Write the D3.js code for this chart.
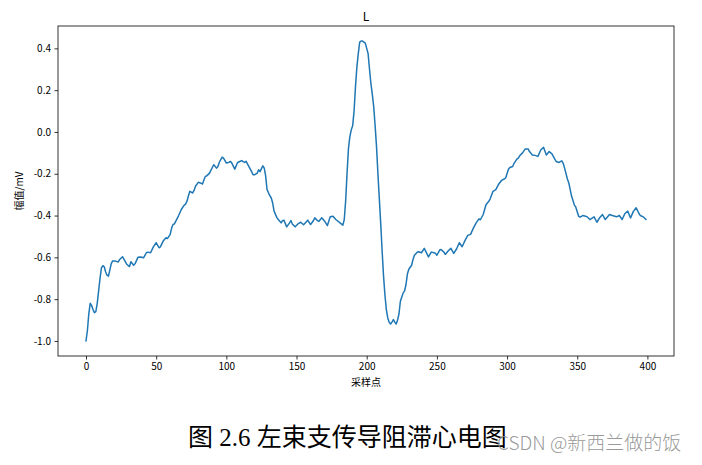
<!DOCTYPE html>
<html><head><meta charset="utf-8">
<script src="https://cdn.jsdelivr.net/npm/d3@7"></script>
<style>body{margin:0;background:#fff}svg{display:block}</style>
</head><body>
<script>
const chartTitle = "L";
const xLabel = "采样点";
const yLabel = "幅值/mV";
const caption = "图 2.6 左束支传导阻滞心电图";
const watermark = "CSDN @新西兰做的饭";
const xTicks = [0, 50, 100, 150, 200, 250, 300, 350, 400];
const yTicks = [-1.0, -0.8, -0.6, -0.4, -0.2, 0.0, 0.2, 0.4];
const sampleIdx = [0,1,2,3,4,5,6,7,8,9,10,11,12,13,14,15,16,17,18,19,21,23,24,26,28,29,31,32,34,35,37,39,41,43,44,46,48,50,52,53,55,57,58,60,61,62,63,64,66,68,70,71,72,73,74,76,77,78,80,82,83,84,85,86,88,90,91,93,94,95,97,98,100,102,103,104,106,108,110,111,112,113,114,116,118,119,120,122,123,124,126,127,128,129,131,132,133,134,136,137,139,140,141,143,145,146,147,149,151,153,155,158,160,162,163,165,166,168,170,172,174,176,178,181,183,184,185,186,187,188,189,190,191,192,193,194,195,196,197,198,199,200,201,202,203,204,205,206,207,208,209,210,211,212,213,214,215,216,217,218,219,220,221,222,223,224,225,226,227,228,229,230,232,233,234,236,237,239,241,242,244,246,248,249,250,252,253,255,256,258,260,262,264,266,268,270,272,274,276,278,280,281,283,285,287,288,290,292,294,296,298,299,301,302,304,305,307,308,309,311,313,315,316,318,320,322,324,326,328,330,332,334,335,337,339,340,341,343,344,346,348,349,351,352,354,356,357,359,362,364,366,368,370,373,375,378,380,382,384,386,388,390,392,394,395,397,399];
const amplitude = [-1.0,-0.95,-0.87,-0.82,-0.83,-0.85,-0.865,-0.86,-0.82,-0.76,-0.70,-0.65,-0.64,-0.645,-0.67,-0.685,-0.69,-0.66,-0.63,-0.617,-0.618,-0.622,-0.61,-0.597,-0.62,-0.633,-0.644,-0.621,-0.638,-0.63,-0.60,-0.598,-0.602,-0.578,-0.575,-0.578,-0.55,-0.53,-0.554,-0.55,-0.522,-0.506,-0.51,-0.49,-0.46,-0.443,-0.44,-0.427,-0.40,-0.37,-0.35,-0.345,-0.33,-0.305,-0.284,-0.292,-0.28,-0.26,-0.241,-0.245,-0.249,-0.23,-0.213,-0.21,-0.197,-0.17,-0.157,-0.173,-0.165,-0.145,-0.12,-0.125,-0.149,-0.145,-0.141,-0.15,-0.178,-0.146,-0.14,-0.137,-0.142,-0.146,-0.14,-0.165,-0.19,-0.205,-0.205,-0.197,-0.181,-0.19,-0.162,-0.173,-0.21,-0.276,-0.305,-0.316,-0.34,-0.379,-0.41,-0.419,-0.435,-0.425,-0.422,-0.454,-0.435,-0.424,-0.44,-0.454,-0.44,-0.432,-0.444,-0.422,-0.443,-0.425,-0.411,-0.425,-0.427,-0.411,-0.427,-0.448,-0.406,-0.403,-0.419,-0.435,-0.446,-0.42,-0.33,-0.197,-0.08,-0.022,0.01,0.03,0.1,0.216,0.31,0.375,0.43,0.435,0.435,0.43,0.425,0.40,0.375,0.30,0.232,0.18,0.121,0.03,-0.07,-0.2,-0.32,-0.44,-0.57,-0.69,-0.78,-0.85,-0.89,-0.91,-0.919,-0.91,-0.898,-0.91,-0.919,-0.90,-0.87,-0.81,-0.79,-0.77,-0.76,-0.73,-0.68,-0.657,-0.638,-0.61,-0.59,-0.575,-0.573,-0.578,-0.557,-0.57,-0.598,-0.575,-0.578,-0.581,-0.59,-0.565,-0.562,-0.575,-0.586,-0.57,-0.557,-0.581,-0.56,-0.53,-0.549,-0.52,-0.495,-0.49,-0.46,-0.435,-0.416,-0.42,-0.395,-0.348,-0.332,-0.32,-0.284,-0.276,-0.25,-0.232,-0.225,-0.22,-0.178,-0.17,-0.165,-0.15,-0.13,-0.125,-0.114,-0.10,-0.081,-0.081,-0.094,-0.110,-0.112,-0.117,-0.086,-0.073,-0.110,-0.094,-0.105,-0.13,-0.141,-0.146,-0.138,-0.15,-0.173,-0.225,-0.244,-0.308,-0.35,-0.36,-0.403,-0.408,-0.40,-0.403,-0.406,-0.419,-0.406,-0.432,-0.41,-0.395,-0.419,-0.395,-0.40,-0.406,-0.40,-0.419,-0.39,-0.379,-0.411,-0.38,-0.363,-0.39,-0.4,-0.406,-0.419];

const W = 702, H = 465;
const M = {left: 58, right: 674, top: 26, bottom: 356};
const svg = d3.select("body").append("svg").attr("width", W).attr("height", H);
svg.append("rect").attr("width", W).attr("height", H).attr("fill", "#fff");

const x = d3.scaleLinear().domain([-19.95, 418.95]).range([M.left, M.right]);
const y = d3.scaleLinear().domain([-1.072, 0.507]).range([M.bottom, M.top]);
const font = "'Noto Sans CJK SC', 'DejaVu Sans', sans-serif";
const fmt = d => d3.format(".1f")(d).replace("−", "-");

const data = sampleIdx.map((s, i) => [s, amplitude[i]]);
svg.append("path").datum(data)
  .attr("fill", "none").attr("stroke", "#1f77b4").attr("stroke-width", 1.5)
  .attr("stroke-linejoin", "round").attr("stroke-linecap", "round")
  .attr("d", d3.line().x(d => x(d[0])).y(d => y(d[1])));

const xAxis = svg.append("g").attr("transform", `translate(0,${M.bottom})`)
  .call(d3.axisBottom(x).tickValues(xTicks).tickSize(3.5).tickPadding(3.5).tickFormat(d3.format("d")));
const yAxis = svg.append("g").attr("transform", `translate(${M.left},0)`)
  .call(d3.axisLeft(y).tickValues(yTicks).tickSize(3.5).tickPadding(3.5).tickFormat(fmt));
[xAxis, yAxis].forEach(g => {
  g.select(".domain").remove();
  g.selectAll("line").attr("stroke", "#000").attr("stroke-width", 0.8);
  g.selectAll("text").attr("font-family", font).attr("font-size", 10).attr("fill", "#000");
});

svg.append("rect").attr("x", M.left).attr("y", M.top)
  .attr("width", M.right - M.left).attr("height", M.bottom - M.top)
  .attr("fill", "none").attr("stroke", "#000").attr("stroke-width", 0.8);

svg.append("text").attr("x", (M.left + M.right) / 2).attr("y", 15)
  .attr("text-anchor", "middle").attr("dominant-baseline", "central")
  .attr("font-family", font).attr("font-size", 12).text(chartTitle);
svg.append("text").attr("x", (M.left + M.right) / 2).attr("y", 381)
  .attr("text-anchor", "middle").attr("dominant-baseline", "central")
  .attr("font-family", font).attr("font-size", 10).text(xLabel);
svg.append("text").attr("transform", `translate(18,${(M.top + M.bottom) / 2}) rotate(-90)`)
  .attr("text-anchor", "middle").attr("dominant-baseline", "central")
  .attr("font-family", font).attr("font-size", 10).text(yLabel);

svg.append("text").attr("x", 188).attr("y", 437)
  .attr("dominant-baseline", "central")
  .attr("font-family", "'Liberation Serif', 'Noto Sans CJK SC', serif").attr("font-size", 25)
  .attr("fill", "#000").text(caption);
svg.append("text").attr("x", 497).attr("y", 441)
  .attr("dominant-baseline", "central")
  .attr("font-family", "'Noto Sans CJK SC', sans-serif").attr("font-weight", 300).attr("font-size", 19)
  .attr("fill", "#8c8c8c").attr("fill-opacity", 0.9).text(watermark);
</script>
</body></html>
